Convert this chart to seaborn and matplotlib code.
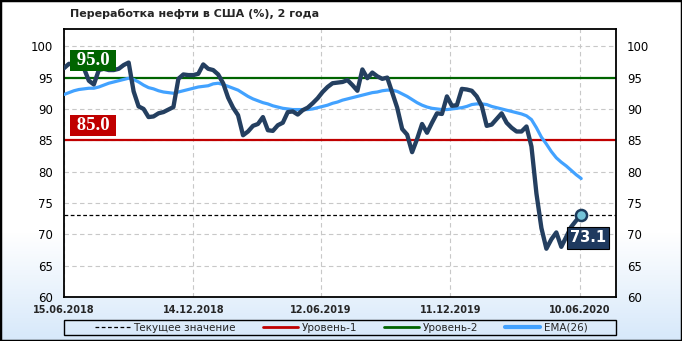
import numpy as np
import pandas as pd
import matplotlib
matplotlib.use("Agg")
import matplotlib.pyplot as plt
import matplotlib.dates as mdates
from matplotlib.patches import Rectangle
from matplotlib.lines import Line2D
import seaborn as sns

# ---------------- data ----------------
title = "Переработка нефти в США (%), 2 года"
start_date = "2018-06-15"
refining = [
    96.5, 97.2, 97.0, 96.8, 96.5, 94.5, 93.9, 96.2, 96.4, 96.2,
    96.2, 96.4, 97.0, 97.4, 92.8, 90.4, 90.0, 88.7, 88.8, 89.3,
    89.5, 89.9, 90.3, 94.8, 95.5, 95.4, 95.4, 95.6, 97.1, 96.4,
    96.2, 95.5, 94.1, 91.8, 90.2, 89.0, 85.8, 86.4, 87.3, 87.6,
    88.7, 86.6, 86.5, 87.4, 87.8, 89.5, 89.6, 89.1, 89.8, 90.2,
    90.9, 91.7, 92.7, 93.5, 94.1, 94.2, 94.3, 94.6, 93.8, 92.9,
    96.3, 94.9, 95.8, 95.2, 94.8, 95.0, 92.6, 90.2, 86.8, 85.9,
    83.1, 85.2, 87.6, 86.2, 87.8, 89.3, 89.2, 92.0, 90.5, 90.6,
    93.2, 93.1, 92.9, 92.0, 90.5, 87.3, 87.5, 88.4, 89.3, 87.8,
    87.0, 86.4, 86.4, 87.2, 84.0, 76.5, 71.0, 67.7, 69.2, 70.3,
    68.0, 69.6, 71.2, 72.2, 73.1,
]
ema26 = [
    92.3, 92.6, 92.9, 93.1, 93.2, 93.3, 93.3, 93.5, 93.8, 94.1,
    94.3, 94.5, 94.7, 94.9, 94.7, 94.3, 93.8, 93.4, 93.2, 92.9,
    92.7, 92.6, 92.5, 92.7, 92.9, 93.1, 93.3, 93.5, 93.6, 93.7,
    94.0, 94.1, 93.9, 93.6, 93.3, 93.0, 92.5, 92.0, 91.6, 91.3,
    91.0, 90.8, 90.5, 90.3, 90.1, 90.0, 89.9, 89.9, 89.9, 89.9,
    90.0, 90.2, 90.4, 90.6, 90.9, 91.1, 91.4, 91.6, 91.8, 92.0,
    92.2, 92.4, 92.6, 92.7, 92.9, 93.0, 93.0, 92.8, 92.4, 92.0,
    91.5, 91.0, 90.6, 90.3, 90.1, 90.0, 89.9, 89.9, 90.0, 90.1,
    90.2, 90.4, 90.7, 90.8, 90.8, 90.7, 90.4, 90.2, 90.0, 89.8,
    89.6, 89.4, 89.2, 88.9, 88.3, 87.0, 85.5, 84.4, 83.2, 82.2,
    81.5, 80.9, 80.2, 79.5, 78.9,
]
current_value = 73.1
level_1 = 85.0
level_2 = 95.0
x_tick_dates = ["2018-06-15", "2018-12-14", "2019-06-12", "2019-12-11", "2020-06-10"]
y_ticks = [60, 65, 70, 75, 80, 85, 90, 95, 100]
legend_labels = ["Текущее значение", "Уровень-1", "Уровень-2", "EMA(26)"]

# ---------------- styles ----------------
NAVY = "#243F60"
EMA_C = "#42A2FF"
RED = "#C00000"
GREEN = "#006400"

dates = pd.date_range(start_date, periods=len(refining), freq="7D")
df = pd.DataFrame({"date": dates, "value": refining, "ema": ema26})

sns.set_style("white")
plt.rcParams["font.family"] = ["DejaVu Sans"]

W, H = 682, 341
fig = plt.figure(figsize=(W / 100, H / 100), dpi=100)

# background gradient
bg = fig.add_axes([0, 0, 1, 1], zorder=-10)
rows = np.arange(H)
t = np.clip((rows - 232) / (H - 232), 0, 1)[:, None]
top = np.array([1.0, 1.0, 1.0])
bot = np.array([0.84, 0.91, 0.98])
grad = (top * (1 - t) + bot * t)[:, None, :]
bg.imshow(grad, aspect="auto", extent=[0, 1, 0, 1], origin="upper")
bg.set_axis_off()

ax = fig.add_axes([64 / W, 44 / H, 552 / W, 268 / H])
ax.set_facecolor("white")

ax.axhline(level_1, color=RED, lw=1.6, zorder=2)
ax.axhline(level_2, color=GREEN, lw=1.6, zorder=2)
ax.axhline(current_value, color="black", lw=0.9, ls=(0, (3, 2)), zorder=2)

sns.lineplot(data=df, x="date", y="ema", color=EMA_C, lw=2.3, ax=ax, zorder=3)
sns.lineplot(data=df, x="date", y="value", color=NAVY, lw=3.1, ax=ax, zorder=4)

ax.scatter([dates[-1]], [refining[-1]], s=64, facecolor="#74C3D8",
           edgecolor="#1B3A5C", linewidth=1.8, zorder=6)

# limits & ticks
ax.set_xlim(pd.Timestamp("2018-06-15"), pd.Timestamp("2020-07-31"))
ax.set_ylim(60, 102.75)
ax.set_yticks(y_ticks)
ax.set_xticks(pd.to_datetime(x_tick_dates))
ax.xaxis.set_major_formatter(mdates.DateFormatter("%d.%m.%Y"))
ax.set_xlabel("")
ax.set_ylabel("")
ax.tick_params(axis="y", length=0, pad=8, labelsize=8.5, labelright=True,
               labelcolor="black")
ax.tick_params(axis="x", length=0, pad=5.5, labelsize=7)
for lb in ax.get_xticklabels():
    lb.set_fontweight("bold")

ax.set_axisbelow(True)
ax.grid(True, color="#C8C8C8", ls=(0, (4, 3)), lw=0.8)
for s in ax.spines.values():
    s.set_visible(True)
    s.set_color("black")
    s.set_linewidth(1.3)

# level labels
for lvl, col, dy in [(level_2, GREEN, 12.5), (level_1, RED, 10.8)]:
    ax.annotate(f" {lvl:.1f} ", xy=(0, lvl), xycoords=("axes fraction", "data"),
                xytext=(21, dy), textcoords="offset points", ha="center",
                va="center", color="white", fontsize=13.5, fontweight="bold",
                family=["Liberation Serif", "DejaVu Serif"], zorder=7,
                bbox=dict(boxstyle="square,pad=0.1", fc=col, ec="none"))

# current value label
ax.annotate(f"{current_value:.1f}", xy=(dates[-1], current_value),
            xytext=(5, -16.5), textcoords="offset points", ha="center",
            va="center", color="white", fontsize=10.5, fontweight="bold",
            zorder=7,
            bbox=dict(boxstyle="square,pad=0.22", fc="#1F3A5F", ec="black",
                      lw=0.8))

# title
fig.text(70 / W, 1 - 14 / H, title, fontsize=8, fontweight="bold",
         ha="left", va="center")

# legend
handles = [
    Line2D([], [], color="black", lw=0.9, ls=(0, (3, 2))),
    Line2D([], [], color=RED, lw=2),
    Line2D([], [], color=GREEN, lw=2),
    Line2D([], [], color=EMA_C, lw=3),
]
fig.legend(handles, legend_labels, loc="center",
           bbox_to_anchor=(341 / W, 1 - 328 / H), ncol=4, frameon=False,
           fontsize=7.5, handlelength=3.4, handletextpad=0.3,
           columnspacing=2.6, borderpad=0, borderaxespad=0)
fig.patches.append(Rectangle((64 / W, 6 / H), 552 / W, 15 / H,
                             transform=fig.transFigure, fill=False,
                             ec="black", lw=1))
fig.patches.append(Rectangle((0, 0), 1, 1, transform=fig.transFigure,
                             fill=False, ec="black", lw=2.5))

fig.savefig("out.png", dpi=100)
